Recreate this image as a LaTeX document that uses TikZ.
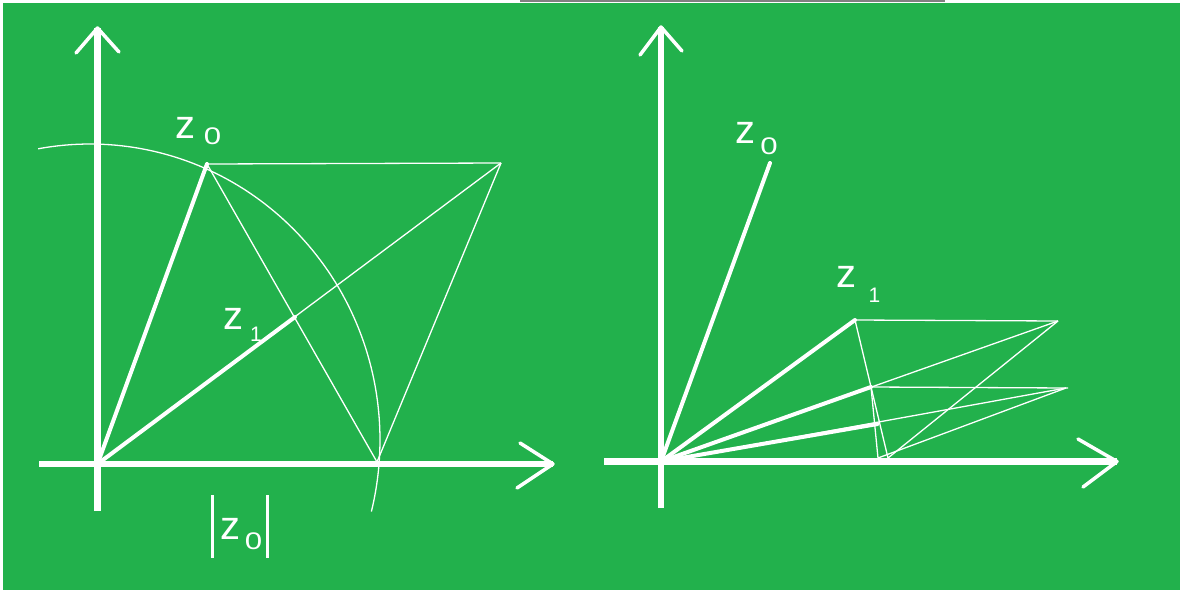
\documentclass[tikz,border=0pt]{standalone}
\usepackage{fontspec}
\setmainfont{Liberation Sans}
\definecolor{bg}{RGB}{34,177,76}
\begin{document}
\begin{tikzpicture}[x=0.5pt,y=-0.5pt,
 axis/.style={white,line width=3.25pt},
 arm/.style={white,line width=1.75pt,line cap=round,line join=round},
 vec/.style={white,line width=2pt,line cap=round},
 thin/.style={white,line width=0.65pt},
 bar/.style={white,line width=1.5pt},
 lz/.style={text=white,font=\fontsize{20}{20}\selectfont,inner sep=0pt},
 lsub/.style={text=white,font=\fontsize{12}{12}\selectfont,inner sep=0pt,xscale=1.3},
 lone/.style={text=white,font=\fontsize{10.5}{10.5}\selectfont,inner sep=0pt},
 ]
\fill[white] (0,0) rectangle (1180,590);
\fill[bg] (3,3) rectangle (1180,590);
\draw[gray, line width=0.75pt] (520,1) -- (945,1);
\useasboundingbox (0,0) rectangle (1180,590);

% ---------- left diagram ----------
\coordinate (OL) at (97.5,464);
\coordinate (xL0) at (39,464);
\coordinate (xL1) at (553,464);
\coordinate (yL0) at (97.5,511);
\coordinate (yL1) at (97.5,28);
\coordinate (xLa) at (520,443);
\coordinate (xLb) at (517,488);
\coordinate (yLa) at (76,53);
\coordinate (yLb) at (119,52);
\coordinate (z0L) at (207,164);
\coordinate (PL) at (501,163);
\coordinate (z1L) at (295,317);
\coordinate (mL) at (377,462);

\draw[thin] plot[domain=100.3:-14, samples=90, variable=\t] ({90+290*cos(\t)}, {440-296*sin(\t)});
\draw[thin] (z0L) -- (PL);
\draw[thin] (OL) -- (PL);
\draw[thin] (z0L) -- (mL);
\draw[thin] (PL) -- (mL);

\draw[axis] (xL0) -- (xL1);
\draw[axis] (yL0) -- (yL1);
\draw[arm] (xLa) -- (xL1) -- (xLb);
\draw[arm] (yLa) -- (yL1) -- (yLb);

\draw[vec] (OL) -- (z0L);
\draw[vec] (OL) -- (z1L);

\node[lz] (z0Lz) at (185,127.5) {z};
\node[lsub] (z0Ls) at (212.5,136.5) {0};
\node[lz] (z1Lz) at (233,319) {z};
\node[lone] (z1Ls) at (256,334.5) {1};

\coordinate (b1a) at (212,495);
\coordinate (b1b) at (212,558);
\coordinate (b2a) at (267,495);
\coordinate (b2b) at (267,558);
\draw[bar] (b1a) -- (b1b);
\draw[bar] (b2a) -- (b2b);
\node[lz] (mLz) at (230,528.5) {z};
\node[lsub] (mLs) at (253.5,541) {0};

% ---------- right diagram ----------
\coordinate (OR) at (661,461.5);
\coordinate (xR0) at (604,461.5);
\coordinate (xR1) at (1117,461.5);
\coordinate (yR0) at (661,508);
\coordinate (yR1) at (661,27);
\coordinate (xRa) at (1078,439);
\coordinate (xRb) at (1083,487);
\coordinate (yRa) at (640,55);
\coordinate (yRb) at (682,51);
\coordinate (z0R) at (770,163);
\coordinate (z1R) at (855,320);
\coordinate (z2R) at (871,387);
\coordinate (z3R) at (877.5,424);
\coordinate (m1R) at (888,458);
\coordinate (m2R) at (878,458);
\coordinate (Q1) at (1058,321);
\coordinate (Q2) at (1066,388);
\coordinate (Q2e) at (1068,388);

\draw[thin] (z1R) -- (Q1);
\draw[thin] (OR) -- (Q1);
\draw[thin] (Q1) -- (m1R);
\draw[thin] (z1R) -- (m1R);
\draw[thin] (z2R) -- (Q2e);
\draw[thin] (OR) -- (Q2);
\draw[thin] (Q2) -- (m2R);
\draw[thin] (z2R) -- (m2R);

\draw[axis] (xR0) -- (xR1);
\draw[axis] (yR0) -- (yR1);
\draw[arm] (xRa) -- (xR1) -- (xRb);
\draw[arm] (yRa) -- (yR1) -- (yRb);

\draw[vec] (OR) -- (z0R);
\draw[vec] (OR) -- (z1R);
\draw[vec] (OR) -- (z2R);
\draw[vec] (OR) -- (z3R);

\node[lz] (z0Rz) at (745,132.5) {z};
\node[lsub] (z0Rs) at (769,146.5) {0};
\node[lz] (z1Rz) at (846,276.5) {z};
\node[lone] (z1Rs) at (874.5,295.5) {1};
\end{tikzpicture}
\end{document}
